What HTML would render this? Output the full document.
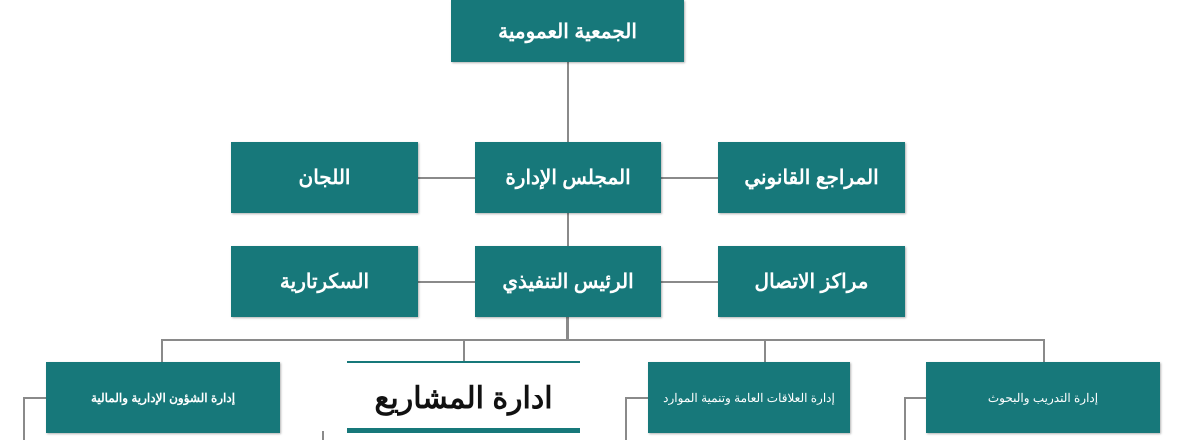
<!DOCTYPE html><html><head><meta charset="utf-8"><style>
body{margin:0;width:1186px;height:440px;background:#fff;position:relative;overflow:hidden;font-family:"Liberation Sans","Noto Sans CJK SC",sans-serif}
.b{position:absolute;background:#17787a;color:#fff;display:flex;align-items:center;justify-content:center;font-weight:bold;direction:rtl;box-shadow:1px 1px 2px rgba(0,0,0,.3)}
.big{font-size:20px}.sm{font-size:12px;font-weight:normal}
.l{position:absolute;background:#8a8a8a}
</style></head><body>
<div class="l" style="left:567px;top:62px;width:2px;height:80px"></div>
<div class="l" style="left:418px;top:177px;width:300px;height:2px"></div>
<div class="l" style="left:567px;top:213px;width:2px;height:33px"></div>
<div class="l" style="left:418px;top:281px;width:300px;height:2px"></div>
<div class="l" style="left:566px;top:317px;width:3px;height:24px"></div>
<div class="l" style="left:161px;top:339px;width:884px;height:2px"></div>
<div class="l" style="left:161px;top:339px;width:2px;height:23px"></div>
<div class="l" style="left:463px;top:339px;width:2px;height:23px"></div>
<div class="l" style="left:764px;top:339px;width:2px;height:23px"></div>
<div class="l" style="left:1043px;top:339px;width:2px;height:23px"></div>
<div class="l" style="left:23px;top:397px;width:23px;height:2px"></div>
<div class="l" style="left:23px;top:397px;width:2px;height:43px"></div>
<div class="l" style="left:625px;top:397px;width:23px;height:2px"></div>
<div class="l" style="left:625px;top:397px;width:2px;height:43px"></div>
<div class="l" style="left:904px;top:397px;width:22px;height:2px"></div>
<div class="l" style="left:904px;top:397px;width:2px;height:43px"></div>
<div class="l" style="left:322px;top:431px;width:2px;height:9px"></div>
<div class="b big" style="left:451px;top:0;width:233px;height:62px">الجمعية العمومية</div>
<div class="b big" style="left:231px;top:142px;width:187px;height:71px">اللجان</div>
<div class="b big" style="left:475px;top:142px;width:186px;height:71px">المجلس الإدارة</div>
<div class="b big" style="left:718px;top:142px;width:187px;height:71px">المراجع القانوني</div>
<div class="b big" style="left:231px;top:246px;width:187px;height:71px">السكرتارية</div>
<div class="b big" style="left:475px;top:246px;width:186px;height:71px">الرئيس التنفيذي</div>
<div class="b big" style="left:718px;top:246px;width:187px;height:71px">مراكز الاتصال</div>
<div class="b sm" style="left:46px;top:362px;width:234px;height:71px;font-weight:bold">إدارة الشؤون الإدارية والمالية</div>
<div class="b sm" style="left:648px;top:362px;width:202px;height:71px">إدارة العلاقات العامة وتنمية الموارد</div>
<div class="b sm" style="left:926px;top:362px;width:234px;height:71px">إدارة التدريب والبحوث</div>
<div style="position:absolute;left:347px;top:361px;width:233px;height:2px;background:#17787a"></div>
<div style="position:absolute;left:347px;top:428px;width:233px;height:5px;background:#17787a"></div>
<div style="position:absolute;left:347px;top:375px;width:233px;height:46px;display:flex;align-items:center;justify-content:center;font-size:30px;font-weight:bold;direction:rtl;color:#111">ادارة المشاريع</div>
</body></html>
